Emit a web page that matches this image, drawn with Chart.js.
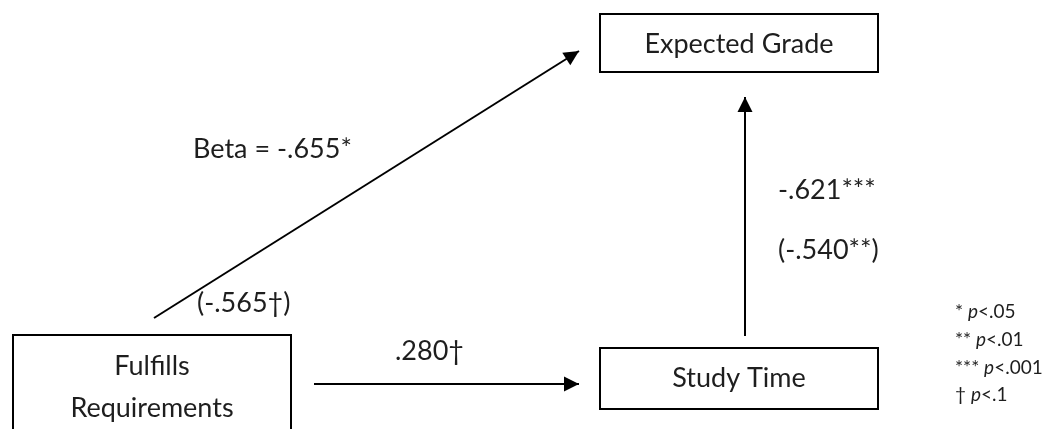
<!DOCTYPE html>
<html>
<head>
<meta charset="utf-8">
<title>Path model: Fulfills Requirements, Study Time, Expected Grade</title>
<script src="https://cdn.jsdelivr.net/npm/chart.js@4"></script>
<style>
  html, body { margin: 0; padding: 0; background: #ffffff; }
  #wrap { width: 1048px; height: 429px; position: relative; }
  canvas { display: block; }
</style>
</head>
<body>
<div id="wrap"><canvas id="c" width="1048" height="429"></canvas></div>
<script>
// ---- Model content ----
const nodeNames = [['Fulfills', 'Requirements'], ['Study Time'], ['Expected Grade']];
const pathFrom = [0, 0, 1];
const pathTo = [2, 1, 2];
const pathCoef = ['-.655*', '.280\u2020', '-.621***'];
const pathCoefControlled = ['-.565\u2020', null, '-.540**'];
const sigMarks = ['*', '**', '***', '\u2020'];
const sigLevels = ['.05', '.01', '.001', '.1'];

// ---- Diagram layout (diagram units, same extent as the canvas) ----
const layout = {
  width: 1048, height: 429,
  boxes: [
    { x0: 13,  x1: 291, y0: 335, y1: 450, open: true, baselines: [375, 417] },
    { x0: 600, x1: 878, y0: 348, y1: 409, baselines: [387] },
    { x0: 600, x1: 878, y0: 14,  y1: 72,  baselines: [53] }
  ],
  arrows: [
    { from: [154, 318], to: [579, 51] },
    { from: [314, 384], to: [579, 384] },
    { from: [745, 336], to: [745, 97] }
  ],
  coefPos: [[193, 158], [395, 360], [778, 199]],
  coefCtrlPos: [[197, 312], null, [778, 259]],
  legend: { x: 955, baselines: [318, 346, 374, 401] }
};

const FONT = 'Lato, "Open Sans", sans-serif';
const INK = '#1e1e1e';
const LABEL_PX = 27;
const LEGEND_PX = 19;

// Box outlines as line datasets (closed polygon, or three sides when cut off)
const boxDatasets = layout.boxes.map((b, i) => {
  const pts = b.open
    ? [{x: b.x0, y: b.y1}, {x: b.x0, y: b.y0}, {x: b.x1, y: b.y0}, {x: b.x1, y: b.y1}]
    : [{x: b.x0, y: b.y0}, {x: b.x1, y: b.y0}, {x: b.x1, y: b.y1}, {x: b.x0, y: b.y1}, {x: b.x0, y: b.y0}];
  return {
    label: nodeNames[i].join(' '),
    data: pts,
    showLine: true,
    borderColor: '#000',
    borderWidth: 2,
    borderJoinStyle: 'miter',
    borderCapStyle: 'square',
    pointRadius: 0,
    fill: false,
    tension: 0,
    kind: 'box',
    nodeIndex: i
  };
});

// Path arrows as two-point line datasets
const arrowDatasets = pathFrom.map((f, i) => {
  const a = layout.arrows[i];
  return {
    label: nodeNames[f].join(' ') + ' \u2192 ' + nodeNames[pathTo[i]].join(' '),
    data: [{x: a.from[0], y: a.from[1]}, {x: a.to[0], y: a.to[1]}],
    showLine: true,
    borderColor: '#000',
    borderWidth: 2,
    pointRadius: 0,
    fill: false,
    kind: 'arrow',
    pathIndex: i
  };
});

// Arrowheads, box captions, coefficients and significance key
const diagramDecor = {
  id: 'diagramDecor',
  afterDatasetsDraw(chart) {
    const ctx = chart.ctx;
    const xs = chart.scales.x, ys = chart.scales.y;
    const px = v => xs.getPixelForValue(v);
    const py = v => ys.getPixelForValue(v);

    // arrowheads at the end of every path
    chart.data.datasets.forEach((ds, di) => {
      if (ds.kind !== 'arrow') return;
      const pts = chart.getDatasetMeta(di).data;
      const p0 = pts[0], p1 = pts[pts.length - 1];
      const ang = Math.atan2(p1.y - p0.y, p1.x - p0.x);
      const len = 15, half = 7.5;
      ctx.save();
      ctx.translate(p1.x, p1.y);
      ctx.rotate(ang);
      ctx.beginPath();
      ctx.moveTo(0, 0);
      ctx.lineTo(-len, -half);
      ctx.lineTo(-len, half);
      ctx.closePath();
      ctx.fillStyle = '#000';
      ctx.fill();
      ctx.restore();
    });

    ctx.save();
    ctx.fillStyle = INK;
    ctx.textBaseline = 'alphabetic';

    // node captions
    ctx.font = LABEL_PX + 'px ' + FONT;
    ctx.textAlign = 'center';
    layout.boxes.forEach((b, i) => {
      const cx = px((b.x0 + b.x1) / 2);
      nodeNames[i].forEach((line, li) => ctx.fillText(line, cx, py(b.baselines[li])));
    });

    // path coefficients
    ctx.textAlign = 'left';
    pathCoef.forEach((c, i) => {
      const pos = layout.coefPos[i];
      const txt = (i === 0 ? 'Beta = ' : '') + c;
      ctx.fillText(txt, px(pos[0]), py(pos[1]));
      const cc = pathCoefControlled[i];
      const cp = layout.coefCtrlPos[i];
      if (cc && cp) ctx.fillText('(' + cc + ')', px(cp[0]), py(cp[1]));
    });

    // significance key
    sigMarks.forEach((m, i) => {
      let x = px(layout.legend.x);
      const y = py(layout.legend.baselines[i]);
      ctx.font = LEGEND_PX + 'px ' + FONT;
      const a = m + ' ';
      ctx.fillText(a, x, y); x += ctx.measureText(a).width;
      ctx.font = 'italic ' + LEGEND_PX + 'px ' + FONT;
      ctx.fillText('p', x, y); x += ctx.measureText('p').width;
      ctx.font = LEGEND_PX + 'px ' + FONT;
      ctx.fillText('<' + sigLevels[i], x, y);
    });
    ctx.restore();
  }
};

new Chart(document.getElementById('c'), {
  type: 'scatter',
  data: { datasets: boxDatasets.concat(arrowDatasets) },
  options: {
    responsive: false,
    animation: false,
    devicePixelRatio: 1,
    layout: { padding: 0 },
    plugins: { legend: { display: false }, tooltip: { enabled: false } },
    events: [],
    scales: {
      x: { type: 'linear', min: 0, max: layout.width, display: false },
      y: { type: 'linear', min: 0, max: layout.height, reverse: true, display: false }
    }
  },
  plugins: [diagramDecor]
});
</script>
</body>
</html>
